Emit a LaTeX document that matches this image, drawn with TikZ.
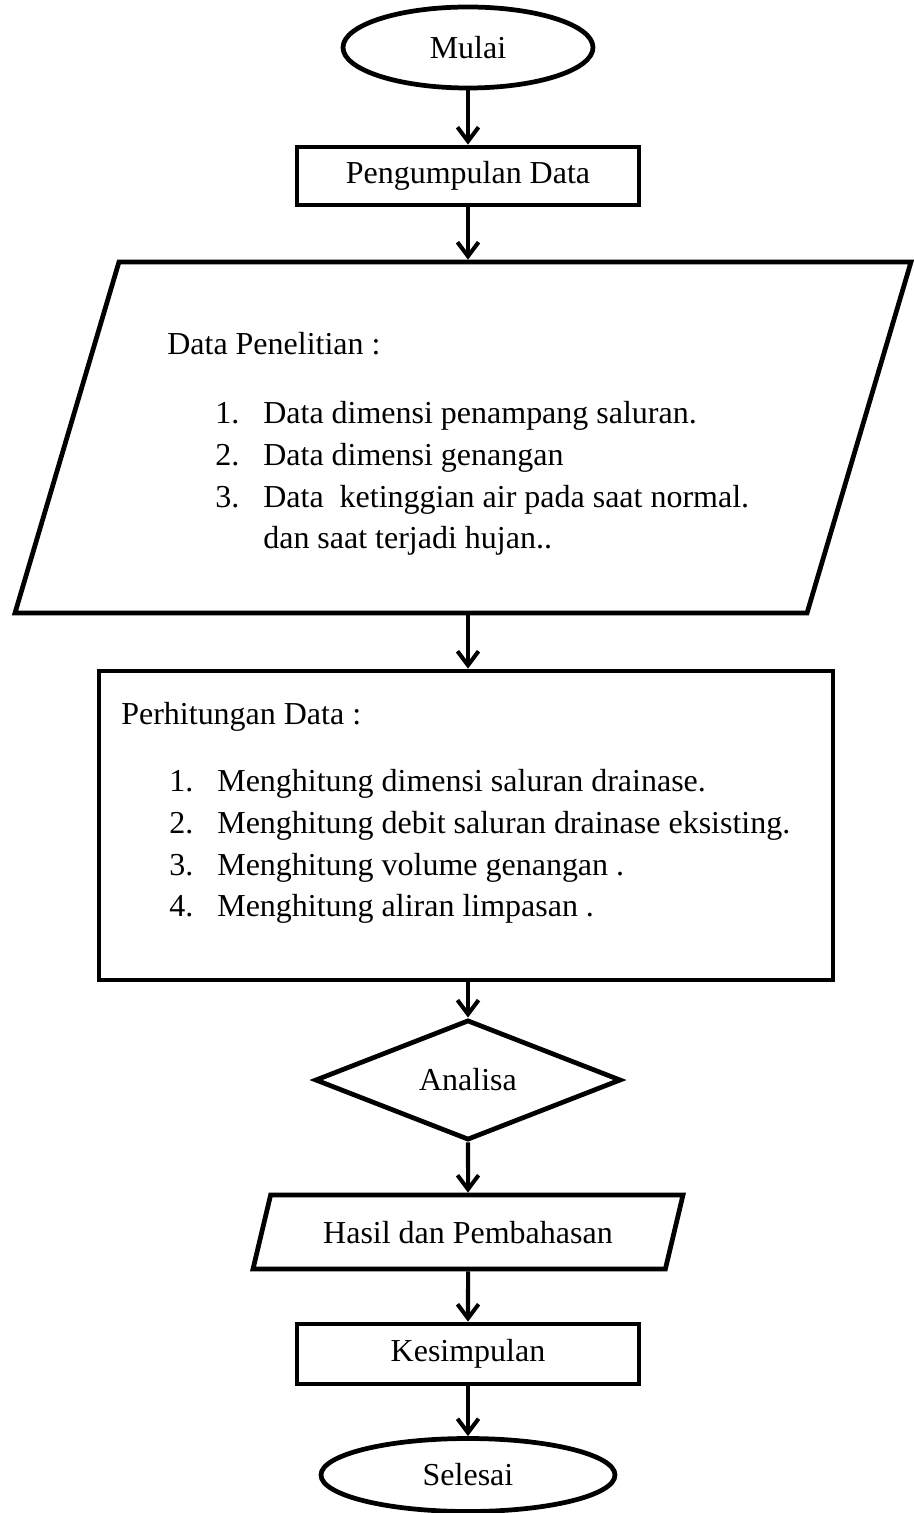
\documentclass[tikz,border=0pt]{standalone}
\usepackage{fontspec}
\setmainfont{Liberation Serif}
\usepackage{tikz}
\usetikzlibrary{
  arrows.meta,
  positioning,
  shapes.geometric
}

\newcommand{\poin}[2]{\hspace*{0.96cm}\makebox[0.96cm][l]{#1}#2}

\begin{document}
\begin{tikzpicture}[
  every node/.style={font=\fontsize{18.2}{23.8}\selectfont},
  terminal/.style={draw, ellipse, line width=2.7pt, inner sep=0pt},
  proses/.style={draw, rectangle, line width=2.7pt, inner sep=0pt},
  masukan/.style={draw, trapezium, trapezium stretches body=true,
                  line width=2.7pt, inner xsep=3pt, inner ysep=0pt},
  putusan/.style={draw, diamond, line width=2.7pt, inner sep=0pt},
  isi/.style={anchor=north west, align=left, inner sep=0pt},
  alur/.style={->, line width=2.3pt},
  >={Straight Barb[length=8pt, width=12pt]}
]
\useasboundingbox (-9.36,0) rectangle (8.9,-30.26);

% Mulai
\node[terminal, minimum width=5cm, minimum height=1.62cm] (mulai) at (0,-0.95) {Mulai};

% Pengumpulan data
\node[proses, minimum width=6.84cm, minimum height=1.16cm] (kumpul) at (0,-3.52)
  {Pengumpulan Data};

% Data penelitian
\node[masukan, trapezium left angle=73.5, trapezium right angle=106.5,
      minimum width=17.92cm] (teliti) at (-0.1,-8.75)
  {\rule[-3.51cm]{0pt}{7.02cm}\hspace*{1cm}};
\node[isi] (telitiisi) at (-6.02,-6.64) {Data Penelitian :\\[0.54cm]
  \poin{1.}{Data dimensi penampang saluran.}\\
  \poin{2.}{Data dimensi genangan}\\
  \poin{3.}{Data\ \ ketinggian air pada saat normal.}\\
  \hspace*{1.92cm}dan saat terjadi hujan..};

% Perhitungan data
\node[proses, minimum width=14.68cm, minimum height=6.18cm] (hitung) at (-0.04,-16.51) {};
\node[isi] (hitungisi) at (-6.94,-14.04) {Perhitungan Data :\\[0.5cm]
  \poin{1.}{Menghitung dimensi saluran drainase.}\\
  \poin{2.}{Menghitung debit saluran drainase eksisting.}\\
  \poin{3.}{Menghitung volume genangan .}\\
  \poin{4.}{Menghitung aliran limpasan .}};

% Analisa, hasil, kesimpulan
\node[putusan, minimum width=6.12cm, minimum height=2.28cm] (analisa) at (0,-21.6) {Analisa};
\node[masukan, trapezium left angle=76.6, trapezium right angle=103.4,
      minimum width=8.6cm] (hasil) at (0,-24.64)
  {\rule[-0.51cm]{0pt}{1.48cm}Hasil dan Pembahasan};
\node[proses, minimum width=6.84cm, minimum height=1.2cm] (simpul) at (0,-27.08) {Kesimpulan};

% Selesai
\node[terminal, minimum width=5.88cm, minimum height=1.46cm] (selesai) at (0,-29.5) {Selesai};

% Arrows
\draw[alur] (mulai) -- (kumpul);
\draw[alur] (kumpul) -- (kumpul |- teliti.north);
\draw[alur] (kumpul |- teliti.south) -- (kumpul |- hitung.north);
\draw[alur] (kumpul |- hitung.south) -- (analisa);
\draw[alur] (analisa) -- (hasil);
\draw[alur] (hasil) -- (simpul);
\draw[alur] (simpul) -- (selesai);

\end{tikzpicture}
\end{document}
